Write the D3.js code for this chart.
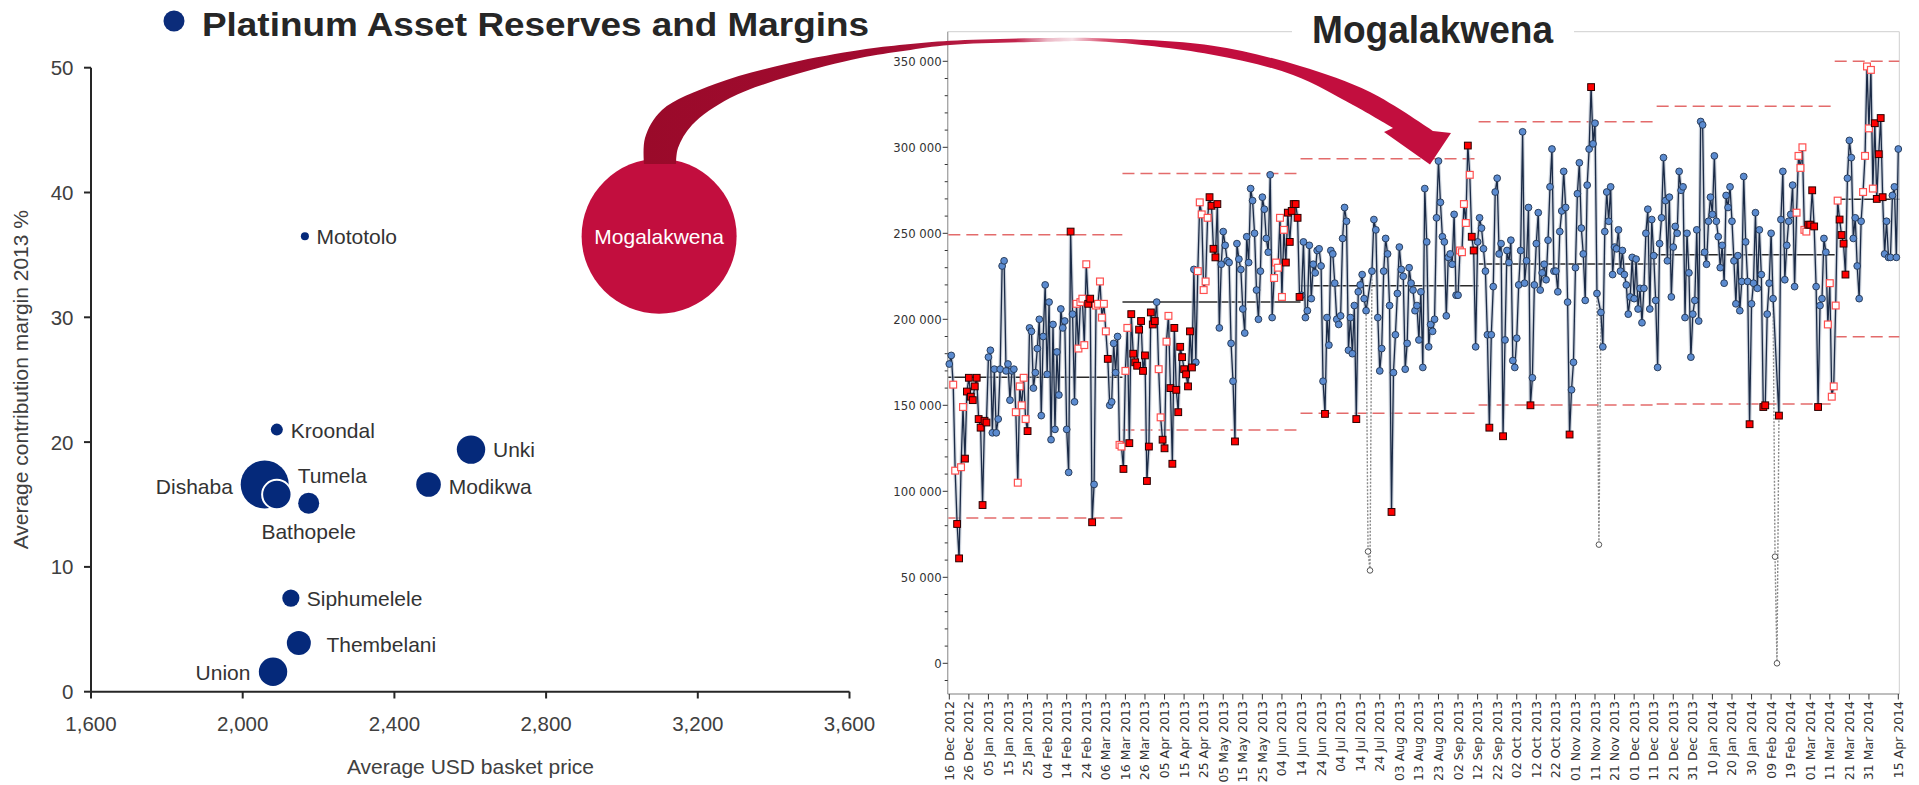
<!DOCTYPE html>
<html><head><meta charset="utf-8">
<script src="https://cdn.jsdelivr.net/npm/d3@7"></script>
<style>html,body{margin:0;padding:0;background:#fff;overflow:hidden}</style>
</head><body>
<svg id="c" width="1919" height="785" xmlns="http://www.w3.org/2000/svg"></svg>
<script>
// ---------------- DATA ----------------
// Left bubble chart
const mines = ["Mototolo","Kroondal","Unki","Dishaba","Tumela","Bathopele","Modikwa","Siphumelele","Thembelani","Union","Mogalakwena"];
const basketPrice = [2164,2090,2602,2058,2090,2174,2490,2127,2148,2080,3098];
const margin2013 = [36.5,21.0,19.4,16.6,15.8,15.1,16.6,7.5,3.9,1.6,36.5];
const reserveIndex = [0.27,0.6,3.36,9.59,3.6,1.84,2.52,1.23,2.4,3.36,100];
const bubbleXTicks = [1600,2000,2400,2800,3200,3600];
const bubbleYTicks = [0,10,20,30,40,50];

// Right control chart (daily values, thousands)
const phaseStart = ["2012-12-16","2013-03-15","2013-06-14","2013-09-13","2013-12-13","2014-03-14"];
const phaseCenter = [166350,210000,219500,232100,237500,269800];
const phaseUCL = [249200,284800,293300,314900,323900,350000];
const phaseLCL = [84500,135600,145400,150200,150700,189800];

const valsP1 = [174,179,162,112,81,61,114,149,119,158,
166,155,153,161,166,142,137,92,141,140,
178,182,134,171,134,142,171,231,234,170,
174,153,170,171,146,105,161,150,166,142,
135,195,193,160,169,183,200,144,190,220,
168,210,130,197,136,181,156,206,195,199,
136,111,251,203,152,209,183,210,212,185,
232,209,212,82,104,208,209,222,201,209,
193,177,150,152,186,169,190,127,126];
const valsP2 = [113,170,195,128,203,180,175,173,194,199,
170,179,106,126,204,197,199,210,171,143,
130,125,187,202,160,116,195,159,146,184,
178,171,168,161,193,172,229,175,228,268,
261,217,222,259,271,266,241,236,267,195,
232,251,243,234,233,186,164,129,244,235,
229,206,192,248,233,276,269,250,217,200,
228,271,264,247,239,284,201,224,233,230,
259,213,252,233,262,245,263,267,267,259,
213];
const valsP3 = [214,245,201,205,243,212,232,227,240,241,
231,164,145,201,185,240,238,221,200,197,
202,247,265,257,182,201,180,208,142,216,
220,226,212,205,65,54,228,258,252,201,
170,183,228,247,238,208,88,169,191,215,
242,229,225,171,186,230,221,217,205,208,
188,216,172,276,245,184,197,193,200,259,
292,268,248,245,202,236,238,232,261,214,
214,240,239,267,256,301,284,248,240,184,
245];
const valsP4 = [259,253,241,228,191,137,191,219,274,282,
238,244,132,188,240,233,246,176,172,189,
220,240,309,221,234,265,150,166,220,244,
262,217,227,232,223,246,277,299,228,228,
216,251,263,286,265,210,133,159,175,230,
273,291,253,238,211,278,299,335,302,314,
215,69,204,184,251,274,257,277,226,242,
241,252,228,240,226,220,203,213,236,212,
235,206,218,198,218,250,264,206,258,237,
211];
const valsP5 = [172,244,259,294,269,234,271,213,242,254,
250,286,275,277,201,250,227,178,203,211,
252,199,315,313,239,232,257,271,261,295,
257,248,230,243,221,272,265,277,257,234,
209,237,205,222,283,245,222,139,209,221,
262,218,252,226,149,150,203,221,250,212,
62,0,144,258,286,223,243,257,261,278,
219,262,295,288,300,252,251,255,255,275,
254,219,149,208,212,247,239,197,221,155,
161];
const valsP6 = [208,269,258,249,244,226,282,304,294,247,
259,231,212,257,274,295,347,311,345,276,
314,270,296,317,271,238,257,236,236,272,
277,236,299];
// marker runs: b = in control, r = flagged, h = warning (hollow), x = excluded
const runsP1 = [["b",2],["h",2],["r",2],["h",2],["r",12],["b",14],["h",6],["r",1],["b",21],["r",1],["b",2],["h",6],["r",3],["b",1],["h",6],["r",1],["b",5],["h",2]];
const runsP2 = [["r",1],["h",2],["r",14],["b",1],["h",2],["r",2],["h",2],["r",12],["b",2],["h",6],["r",5],["b",8],["r",1],["b",19],["h",6],["r",8]];
const runsP3 = [["b",12],["r",1],["b",15],["r",1],["b",5],["x",2],["b",10],["r",1],["b",34],["h",4],["r",1],["h",1],["r",2],["b",2]];
const runsP4 = [["b",5],["r",1],["b",6],["r",1],["b",13],["r",1],["b",19],["r",1],["b",10],["r",1],["b",3],["x",1],["b",29]];
const runsP5 = [["b",47],["r",1],["b",6],["r",2],["b",4],["x",2],["r",1],["b",8],["h",6],["r",4],["b",1],["r",1],["b",4],["h",4]];
const runsP6 = [["h",2],["r",4],["b",8],["h",6],["r",5],["b",8]];

const xTickLabels = ["16 Dec 2012","26 Dec 2012","05 Jan 2013","15 Jan 2013","25 Jan 2013","04 Feb 2013","14 Feb 2013","24 Feb 2013","06 Mar 2013","16 Mar 2013","26 Mar 2013","05 Apr 2013","15 Apr 2013","25 Apr 2013","05 May 2013","15 May 2013","25 May 2013","04 Jun 2013","14 Jun 2013","24 Jun 2013","04 Jul 2013","14 Jul 2013","24 Jul 2013","03 Aug 2013","13 Aug 2013","23 Aug 2013","02 Sep 2013","12 Sep 2013","22 Sep 2013","02 Oct 2013","12 Oct 2013","22 Oct 2013","01 Nov 2013","11 Nov 2013","21 Nov 2013","01 Dec 2013","11 Dec 2013","21 Dec 2013","31 Dec 2013","10 Jan 2014","20 Jan 2014","30 Jan 2014","09 Feb 2014","19 Feb 2014","01 Mar 2014","11 Mar 2014","21 Mar 2014","31 Mar 2014","15 Apr 2014"];
const yTickValues = [0,50000,100000,150000,200000,250000,300000,350000];
const yTickLabels = ["0","50 000","100 000","150 000","200 000","250 000","300 000","350 000"];

// ---------------- DRAW ----------------
const svg = d3.select("#c");
const defs = svg.append("defs");
const AX = "#262626";
const LFONT = "Arial, 'Liberation Sans', sans-serif";

// ===== Left bubble chart =====
const xL = d3.scaleLinear().domain([1600,3600]).range([91,849.5]);
const yL = d3.scaleLinear().domain([0,50]).range([691.7,67.7]);
const rL = d3.scaleSqrt().domain([0,100]).range([0,77.5]);

// title
svg.append("circle").attr("cx",174).attr("cy",21).attr("r",10.5).attr("fill","#0B2C7A");
svg.append("text").attr("x",202).attr("y",36).attr("font-family",LFONT).attr("font-weight","bold")
  .attr("font-size",33).attr("fill","#262626").attr("textLength",667).attr("lengthAdjust","spacingAndGlyphs")
  .text("Platinum Asset Reserves and Margins");

const gL = svg.append("g");
// axes
gL.append("line").attr("x1",91).attr("x2",849.5).attr("y1",691.7).attr("y2",691.7).attr("stroke",AX).attr("stroke-width",2);
gL.append("line").attr("x1",91).attr("x2",91).attr("y1",67.7).attr("y2",691.7).attr("stroke",AX).attr("stroke-width",2);
bubbleXTicks.forEach(v=>{
  gL.append("line").attr("x1",xL(v)).attr("x2",xL(v)).attr("y1",691.7).attr("y2",698.5).attr("stroke",AX).attr("stroke-width",2);
  gL.append("text").attr("x",xL(v)).attr("y",730.7).attr("text-anchor","middle").attr("font-family",LFONT)
    .attr("font-size",20.5).attr("fill","#404040").text(d3.format(",")(v));
});
bubbleYTicks.forEach(v=>{
  gL.append("line").attr("x1",84).attr("x2",91).attr("y1",yL(v)).attr("y2",yL(v)).attr("stroke",AX).attr("stroke-width",2);
  gL.append("text").attr("x",73.5).attr("y",yL(v)).attr("dominant-baseline","central").attr("text-anchor","end")
    .attr("font-family",LFONT).attr("font-size",20.5).attr("fill","#404040").text(v);
});
gL.append("text").attr("x",470.5).attr("y",766).attr("dominant-baseline","central").attr("text-anchor","middle")
  .attr("font-family",LFONT).attr("font-size",21).attr("fill","#404040").text("Average USD basket price");
gL.append("text").attr("transform","translate(20,379.7) rotate(-90)").attr("dominant-baseline","central").attr("text-anchor","middle")
  .attr("font-family",LFONT).attr("font-size",21).attr("fill","#404040").text("Average contribution margin 2013 %");

const mineData = mines.map((m,i)=>({name:m, x:basketPrice[i], y:margin2013[i], r:reserveIndex[i]}));
// label layout (offsets from bubble centre)
const labelLayout = {
  Mototolo:[11.6,0,"start"], Kroondal:[14,1,"start"], Unki:[22,0,"start"], Dishaba:[-31.8,1.5,"end"],
  Tumela:[20.8,-18.6,"start"], Bathopele:[0,28.5,"middle"], Modikwa:[20.2,1.5,"start"],
  Siphumelele:[15.9,0.3,"start"], Thembelani:[27.6,1,"start"], Union:[-22.6,0.4,"end"], Mogalakwena:[0,0,"middle"]
};
const NAVY = "#05297A", CRIMSON = "#C20E3E";
gL.selectAll("circle.b").data(mineData).join("circle").attr("class","b")
  .attr("cx",d=>xL(d.x)).attr("cy",d=>yL(d.y)).attr("r",d=>rL(d.r))
  .attr("fill",d=>d.name==="Mogalakwena"?CRIMSON:NAVY)
  .attr("stroke",d=>d.name==="Tumela"?"#fff":"none").attr("stroke-width",2);
gL.selectAll("text.lab").data(mineData).join("text").attr("class","lab")
  .attr("x",d=>xL(d.x)+labelLayout[d.name][0]).attr("y",d=>yL(d.y)+labelLayout[d.name][1])
  .attr("text-anchor",d=>labelLayout[d.name][2]).attr("dominant-baseline","central")
  .attr("font-family",LFONT).attr("font-size",21)
  .attr("fill",d=>d.name==="Mogalakwena"?"#fff":"#333").text(d=>d.name);

// ===== Right control chart =====
const DAY = 864e5;
const parseISO = d3.utcParse("%Y-%m-%d");
const parseTick = d3.utcParse("%d %b %Y");
const xR = d3.scaleUtc().domain([parseISO("2012-12-16"), parseISO("2014-04-15")]).range([949.3,1898.3]);
const yR = d3.scaleLinear().domain([0,350000]).range([663.3,61.3]);
const FL = 947.7, FR = 1899.3, FT = 31.7, FB = 694;
const gR = svg.append("g");
const TFONT = "'DejaVu Sans Condensed','DejaVu Sans',sans-serif";

// frame
gR.append("line").attr("x1",FL).attr("x2",FR).attr("y1",FT).attr("y2",FT).attr("stroke","#cfcfcf").attr("stroke-width",1);
gR.append("line").attr("x1",FR).attr("x2",FR).attr("y1",FT).attr("y2",FB).attr("stroke","#cfcfcf").attr("stroke-width",1);
gR.append("line").attr("x1",FL).attr("x2",FL).attr("y1",FT).attr("y2",FB).attr("stroke","#a8a8a8").attr("stroke-width",1.4);
gR.append("line").attr("x1",FL).attr("x2",FR).attr("y1",FB).attr("y2",FB).attr("stroke","#a8a8a8").attr("stroke-width",1.4);

// y ticks
d3.range(-10000,350001,10000).forEach(v=>{
  const major = v%50000===0;
  gR.append("line").attr("x1",FL-(major?5:3)).attr("x2",FL).attr("y1",yR(v)).attr("y2",yR(v)).attr("stroke","#333").attr("stroke-width",1);
});
yTickValues.forEach((v,i)=>{
  gR.append("text").attr("x",FL-6).attr("y",yR(v)).attr("dominant-baseline","central").attr("text-anchor","end")
    .attr("font-family",TFONT).attr("font-size",13).attr("fill","#333").text(yTickLabels[i]);
});
// x ticks
xTickLabels.forEach(s=>{
  const x = xR(parseTick(s));
  gR.append("line").attr("x1",x).attr("x2",x).attr("y1",FB).attr("y2",FB+5.5).attr("stroke","#333").attr("stroke-width",1);
  gR.append("text").attr("transform",`translate(${x},${FB+7}) rotate(-90)`).attr("text-anchor","end").attr("dominant-baseline","central")
    .attr("font-family","'DejaVu Sans',sans-serif").attr("font-size",12.5).attr("fill","#333").text(s);
});

// build points
const allVals = [valsP1,valsP2,valsP3,valsP4,valsP5,valsP6];
const allRuns = [runsP1,runsP2,runsP3,runsP4,runsP5,runsP6];
const points = [];
allVals.forEach((vals,k)=>{
  const types = [];
  allRuns[k].forEach(([t,n])=>{ for(let j=0;j<n;j++) types.push(t); });
  const t0 = +parseISO(phaseStart[k]);
  vals.forEach((v,i)=>points.push({date:new Date(t0+i*DAY), v:v*1000, type:types[i]||"b", phase:k}));
});

// phase limit lines
allVals.forEach((vals,k)=>{
  const t0 = +parseISO(phaseStart[k]);
  const xa = Math.max(FL, xR(new Date(t0-0.5*DAY)));
  const xb = Math.min(FR, xR(new Date(t0+(vals.length-0.5)*DAY)));
  [phaseUCL[k],phaseLCL[k]].forEach(v=>{
    gR.append("line").attr("x1",xa).attr("x2",xb).attr("y1",yR(v)).attr("y2",yR(v))
      .attr("stroke","#E36B6B").attr("stroke-width",1.5).attr("stroke-dasharray","12,6");
  });
  gR.append("line").attr("x1",xa).attr("x2",xb).attr("y1",yR(phaseCenter[k])).attr("y2",yR(phaseCenter[k]))
    .attr("stroke","#2a2a2a").attr("stroke-width",1.5);
});

const line = d3.line().x(d=>xR(d.date)).y(d=>yR(d.v));
// dotted connectors through excluded points
for(let i=0;i<points.length;i++){
  if(points[i].type==="x" && (i===0 || points[i-1].type!=="x")){
    let j=i; while(j<points.length && points[j].type==="x") j++;
    const seg = points.slice(Math.max(0,i-1), Math.min(points.length,j+1));
    gR.append("path").attr("d",line(seg)).attr("fill","none").attr("stroke","#8a8a8a").attr("stroke-width",1.4).attr("stroke-dasharray","2,1.5");
  }
}
const included = points.filter(d=>d.type!=="x");
gR.append("path").attr("d",line(included)).attr("fill","none").attr("stroke","#b9c2cf").attr("stroke-width",3.6).attr("stroke-linejoin","round").attr("opacity",0.7);
gR.append("path").attr("d",line(included)).attr("fill","none").attr("stroke","#1B2B47").attr("stroke-width",1.3).attr("stroke-linejoin","round");

// markers
gR.selectAll("circle.ex").data(points.filter(d=>d.type==="x")).join("circle").attr("class","ex")
  .attr("cx",d=>xR(d.date)).attr("cy",d=>yR(d.v)).attr("r",2.8).attr("fill","#fff").attr("stroke","#555").attr("stroke-width",1);
gR.selectAll("circle.pt").data(points.filter(d=>d.type==="b")).join("circle").attr("class","pt")
  .attr("cx",d=>xR(d.date)).attr("cy",d=>yR(d.v)).attr("r",3.4).attr("fill","#5B8BD0").attr("stroke","#22344F").attr("stroke-width",0.9);
const SQ = 6.8;
gR.selectAll("rect.h").data(points.filter(d=>d.type==="h")).join("rect").attr("class","h")
  .attr("x",d=>xR(d.date)-SQ/2).attr("y",d=>yR(d.v)-SQ/2).attr("width",SQ).attr("height",SQ)
  .attr("fill","#fff").attr("stroke","#FF5050").attr("stroke-width",1.2);
gR.selectAll("rect.r").data(points.filter(d=>d.type==="r")).join("rect").attr("class","r")
  .attr("x",d=>xR(d.date)-SQ/2).attr("y",d=>yR(d.v)-SQ/2).attr("width",SQ).attr("height",SQ)
  .attr("fill","#FF0000").attr("stroke","#2a0000").attr("stroke-width",1);

// title
gR.append("rect").attr("x",1292).attr("y",22).attr("width",282).attr("height",20).attr("fill","#fff");
gR.append("text").attr("x",1432.5).attr("y",42.7).attr("text-anchor","middle").attr("font-family",LFONT)
  .attr("font-weight","bold").attr("font-size",38).attr("fill","#262626")
  .attr("textLength",241).attr("lengthAdjust","spacingAndGlyphs").text("Mogalakwena");

// ===== Curved arrow =====
const grad = defs.append("linearGradient").attr("id","ag").attr("gradientUnits","userSpaceOnUse")
  .attr("x1",644).attr("y1",0).attr("x2",1452).attr("y2",0);
[[0,"#9A0A2A"],[0.3,"#A20B30"],[0.46,"#C2244C"],[0.5,"#EBB9C6"],[0.53,"#F6E0E6"],[0.57,"#D8506F"],[0.62,"#C20E3E"],[1,"#C20E3E"]]
  .forEach(([o,c])=>grad.append("stop").attr("offset",o).attr("stop-color",c));
const topEdge = [[644,164],[645,138],[662,110],[715,84],[790,63],[860,50],[905,44.5],[950,40.7],[1046,38],[1100,38.3],[1211,45.5],[1300,66],[1370,92],[1433,131]];
const botEdge = [[1393,128],[1353,105],[1293,75],[1211,54.5],[1100,41.6],[1046,41.8],[950,45],[905,50.7],[860,58],[790,76],[730,98],[692,125],[678,148],[676,164]];
const cr = d3.line().curve(d3.curveCatmullRom.alpha(0.5));
const dTop = cr(topEdge);
const dBot = cr(botEdge).replace(/^M/,"L");
const dArrow = dTop + "L1451,133L1430,164.5L1384,132" + dBot + "Z";
svg.append("path").attr("d",dArrow).attr("fill","url(#ag)");
</script>
</body></html>
